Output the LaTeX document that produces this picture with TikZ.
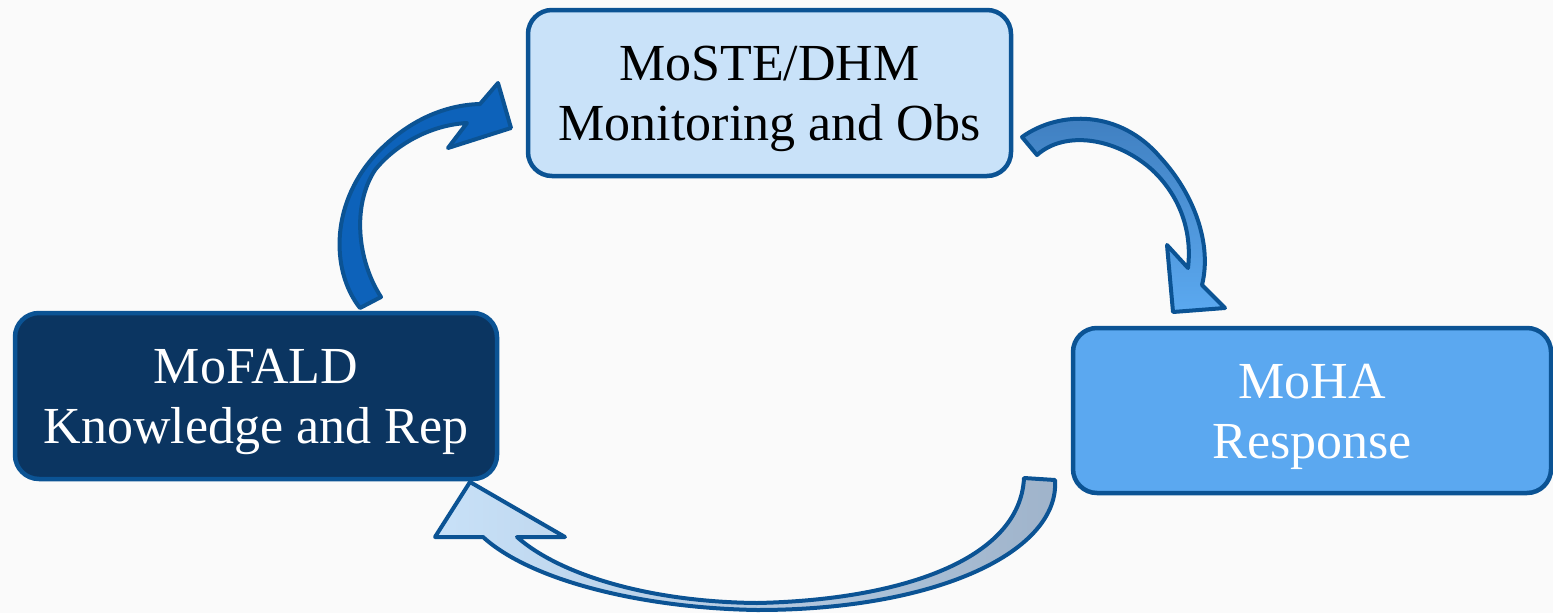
\documentclass[tikz,border=0pt]{standalone}
\usepackage{fontspec}
\setmainfont{Liberation Serif}
\definecolor{edgeblue}{HTML}{0B5394}
\definecolor{topfill}{HTML}{C9E2F9}
\definecolor{leftfill}{HTML}{0B3561}
\definecolor{rightfill}{HTML}{5BA8F0}
\definecolor{bgc}{HTML}{FAFAFA}
\begin{document}
\begin{tikzpicture}[x=1pt,y=-1pt,
  box/.style={draw=edgeblue,line width=4.5pt,rounded corners=24pt,
    minimum width=#1,minimum height=166pt,inner sep=0pt},
  boxtext/.style={align=center,font=\fontsize{52}{60}\selectfont,inner sep=0pt},
  blockarrow/.style={draw=edgeblue,line width=4pt,line join=round}]
\fill[bgc] (0,0) rectangle (1553,613);
\useasboundingbox (0,0) rectangle (1553,613);
% arrows (behind boxes)
\path[blockarrow,fill={rgb,255:red,13;green,98;blue,186}]
  (360,308) .. controls (330,270) and (330,200) .. (380,150)
  .. controls (410,120) and (445,105) .. (480,104)
  -- (498,83) -- (511,128) -- (448,148) -- (467,123)
  .. controls (430,125) and (395,145) .. (375,170)
  .. controls (352,205) and (357,260) .. (381,297) -- cycle;
\path[blockarrow,top color={rgb,255:red,63;green,126;blue,191},bottom color={rgb,255:red,91;green,169;blue,240}]
  (1022,137) .. controls (1060,110) and (1120,110) .. (1160,157)
  .. controls (1195,195) and (1212,245) .. (1202,285)
  -- (1225,308) -- (1173,312) -- (1167,245) -- (1188,268)
  .. controls (1193,225) and (1175,190) .. (1150,168)
  .. controls (1115,138) and (1065,130) .. (1037,155) -- cycle;
\path[blockarrow,left color={rgb,255:red,200;green,225;blue,248},right color={rgb,255:red,159;green,179;blue,202}]
  (1055,480) .. controls (1060,550) and (940,610) .. (757,610)
  .. controls (640,608) and (530,580) .. (483,537)
  -- (435,537) -- (470,482) -- (565,537) -- (517,537)
  .. controls (560,575) and (650,602) .. (757,603)
  .. controls (900,600) and (1020,560) .. (1024,478) -- cycle;
% boxes
\node[box=483pt,fill=topfill] (moste) at (769.5,93) {};
\node[box=482pt,fill=leftfill] (mofald) at (256,396) {};
\node[box=478pt,fill=rightfill,minimum height=165pt] (moha) at (1312,410.5) {};
\node[boxtext,text=black] (mostetext) at ([yshift=-6pt]moste.center) {MoSTE/DHM\\Monitoring and Obs};
\node[boxtext,text=white] (mofaldtext) at ([yshift=-6pt]mofald.center) {MoFALD\\Knowledge and Rep};
\node[boxtext,text=white] (mohatext) at ([yshift=-6pt]moha.center) {MoHA\\Response};
\end{tikzpicture}
\end{document}
